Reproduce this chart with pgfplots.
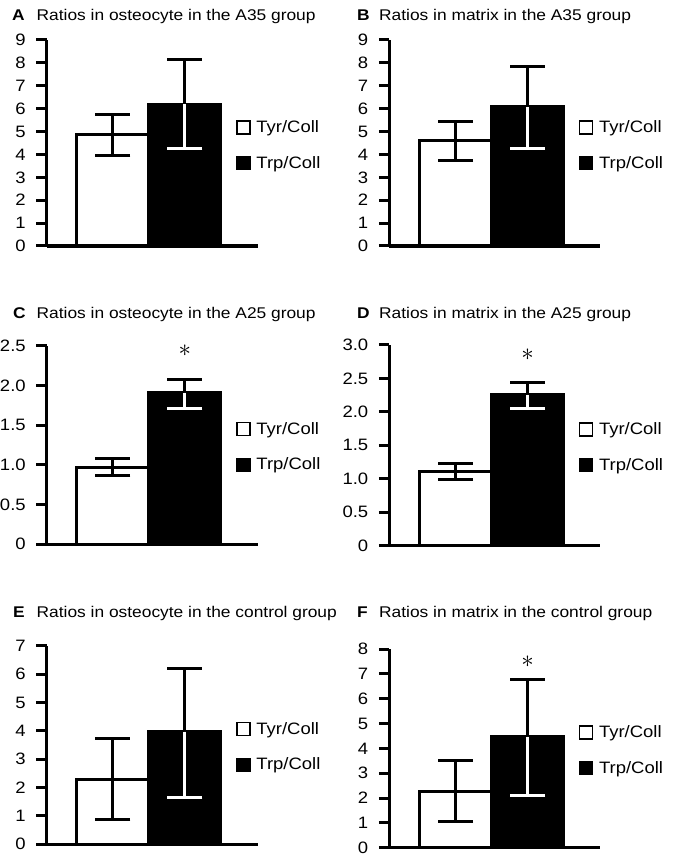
\documentclass[border=0pt]{standalone}
\usepackage{pgfplots}
\pgfplotsset{compat=1.18}
\usepackage{fontspec}
\setmainfont{Liberation Sans}[FakeStretch=1.12]
\tikzset{starnode/.style={font=\fontsize{40}{40}\selectfont, inner sep=0pt}}
\pgfplotsset{
  panel/.style={
    scale only axis, width=211pt, xmin=-0.92, xmax=2.01, ymin=0,
    axis lines=left, axis line style={-, line width=3.2pt, black},
    xtick=\empty, tick align=outside, major tick length=10.5pt,
    ytick style={line width=3pt, black},
    /pgf/number format/assume math mode=true,
    yticklabel style={font=\fontsize{16.5}{16.5}\selectfont, xshift=-7pt},
    ybar, bar width=1, clip=false,
    legend style={at={(0.883,0.49)}, anchor=west, draw=none, fill=none,
      font=\fontsize{16.5}{16.5}\selectfont, row sep=18pt, nodes={inner sep=2pt}},
    legend cell align=left,
  },
  sq/.style={legend image code/.code={\draw[##1, line width=1.4pt] (0pt,-6.5pt) rectangle (13pt,6.5pt); \path (16pt,0pt);}},
  wbar/.style={fill=white, draw=black, line width=3pt, bar shift=0pt, sq,
    error bars/.cd, y dir=both, y explicit, error mark=|,
    error bar style={line width=3pt, black},
    error mark options={black, line width=3pt, mark size=17.5pt}},
  bbar/.style={fill=black, draw=black, line width=3pt, bar shift=0pt, sq,
    error bars/.cd, y dir=plus, y explicit, error mark=|,
    error bar style={line width=3pt, black},
    error mark options={black, line width=3pt, mark size=17.5pt}},
  bbarm/.style={forget plot, fill=black, draw=black, line width=3pt, bar shift=0pt,
    error bars/.cd, y dir=minus, y explicit, error mark=|,
    error bar style={line width=3pt, white},
    error mark options={white, line width=3pt, mark size=17.5pt}},
}
\newcommand\ttl[4]{%
  \node[anchor=base west, inner sep=0, font=\fontsize{15.5}{15.5}\selectfont\bfseries] at (#1) {#3};
  \node[anchor=base west, inner sep=0, font=\fontsize{15.5}{15.5}\selectfont] at (#2) {#4};}
\begin{document}
\begin{tikzpicture}[x=1pt,y=1pt]
\useasboundingbox (0,0) rectangle (672,859);
\fill[white] (0,0) rectangle (672,859);
\ttl{12,838.3}{36.5,838.3}{A}{Ratios in osteocyte in the A35 group}
\ttl{357,838.3}{379,838.3}{B}{Ratios in matrix in the A35 group}
\ttl{13,540.7}{36.5,540.7}{C}{Ratios in osteocyte in the A25 group}
\ttl{357,540.7}{379,540.7}{D}{Ratios in matrix in the A25 group}
\ttl{13,241.7}{36.5,241.7}{E}{Ratios in osteocyte in the control group}
\ttl{357,241.7}{379,241.7}{F}{Ratios in matrix in the control group}
% A
\begin{axis}[panel, at={(46.7pt,613pt)}, anchor=south west, height=206pt, ymax=9, ytick={0,1,2,3,4,5,6,7,8,9}]
\addplot[wbar] coordinates {(0,4.85) +- (0,0.88)};
\addlegendentry{Tyr/Coll}
\addplot[bbar] coordinates {(1,6.19) +- (0,1.95)};
\addlegendentry{Trp/Coll}
\addplot[bbarm] coordinates {(1,6.19) +- (0,1.95)};
\end{axis}
% B
\begin{axis}[panel, at={(389.3pt,613pt)}, anchor=south west, height=206pt, ymax=9, ytick={0,1,2,3,4,5,6,7,8,9}]
\addplot[wbar] coordinates {(0,4.59) +- (0,0.85)};
\addlegendentry{Tyr/Coll}
\addplot[bbar] coordinates {(1,6.08) +- (0,1.78)};
\addlegendentry{Trp/Coll}
\addplot[bbarm] coordinates {(1,6.08) +- (0,1.8)};
\end{axis}
% C
\begin{axis}[panel, at={(46.7pt,314.7pt)}, anchor=south west, height=198.6pt, ymax=2.5,
  ytick={0,0.5,1,1.5,2,2.5}, yticklabels={0,0.5,1.0,1.5,2.0,2.5}]
\addplot[wbar] coordinates {(0,0.97) +- (0,0.11)};
\addlegendentry{Tyr/Coll}
\addplot[bbar] coordinates {(1,1.91) +- (0,0.17)};
\addlegendentry{Trp/Coll}
\addplot[bbarm] coordinates {(1,1.91) +- (0,0.2)};
\node[starnode] at (axis cs:1,2.44) {$\ast$};
\end{axis}
% D
\begin{axis}[panel, at={(389.3pt,313.3pt)}, anchor=south west, height=200.7pt, ymax=3,
  ytick={0,0.5,1,1.5,2,2.5,3}, yticklabels={0,0.5,1.0,1.5,2.0,2.5,3.0}]
\addplot[wbar] coordinates {(0,1.11) +- (0,0.125)};
\addlegendentry{Tyr/Coll}
\addplot[bbar] coordinates {(1,2.26) +- (0,0.18)};
\addlegendentry{Trp/Coll}
\addplot[bbarm] coordinates {(1,2.26) +- (0,0.21)};
\node[starnode] at (axis cs:1,2.86) {$\ast$};
\end{axis}
% E
\begin{axis}[panel, at={(46.7pt,14.7pt)}, anchor=south west, height=198.6pt, ymax=7, ytick={0,1,2,3,4,5,6,7}]
\addplot[wbar] coordinates {(0,2.30) +- (0,1.44)};
\addlegendentry{Tyr/Coll}
\addplot[bbar] coordinates {(1,3.97) +- (0,2.23)};
\addlegendentry{Trp/Coll}
\addplot[bbarm] coordinates {(1,3.97) +- (0,2.33)};
\end{axis}
% F
\begin{axis}[panel, at={(389.3pt,11.3pt)}, anchor=south west, height=198.7pt, ymax=8, ytick={0,1,2,3,4,5,6,7,8}]
\addplot[wbar] coordinates {(0,2.28) +- (0,1.23)};
\addlegendentry{Tyr/Coll}
\addplot[bbar] coordinates {(1,4.47) +- (0,2.31)};
\addlegendentry{Trp/Coll}
\addplot[bbarm] coordinates {(1,4.47) +- (0,2.38)};
\node[starnode] at (axis cs:1,7.49) {$\ast$};
\end{axis}
\end{tikzpicture}
\end{document}
